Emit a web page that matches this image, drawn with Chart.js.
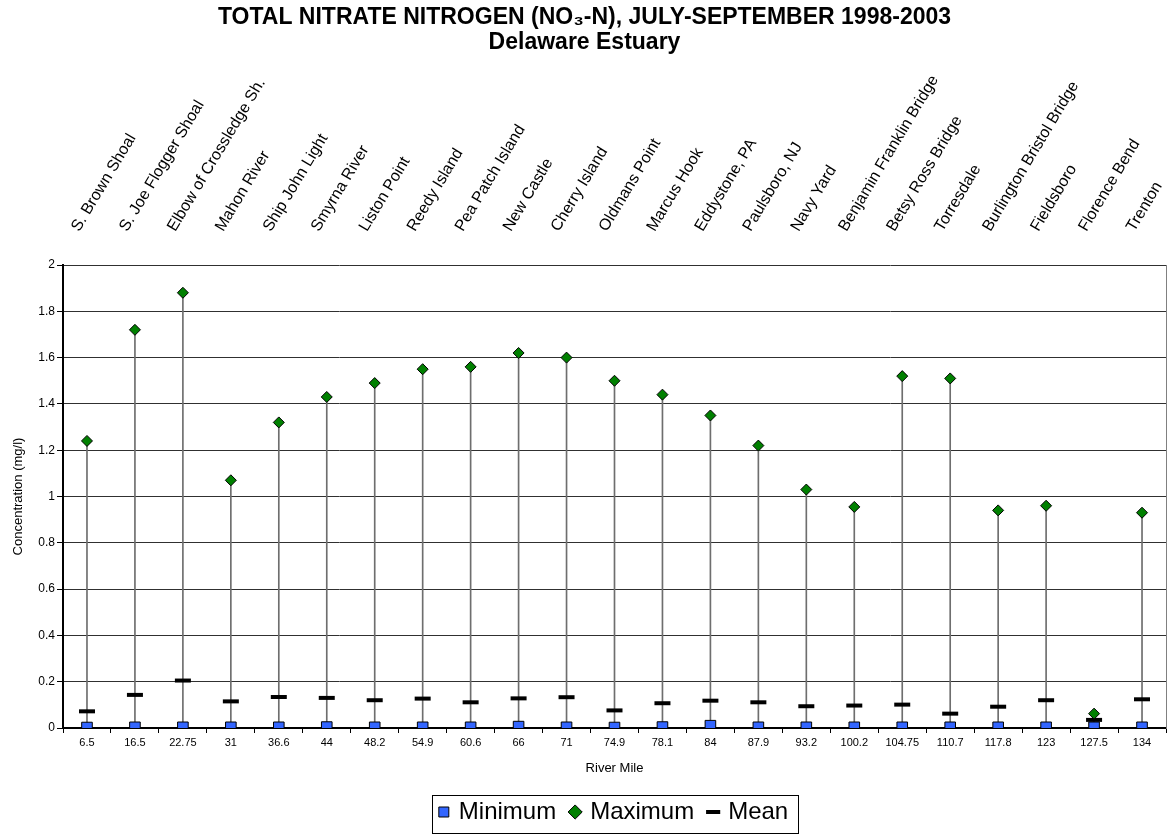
<!DOCTYPE html>
<html>
<head>
<meta charset="utf-8">
<title>Total Nitrate Nitrogen - Delaware Estuary</title>
<script src="https://cdn.jsdelivr.net/npm/chart.js@4.4.1/dist/chart.umd.min.js"></script>
<style>
    html, body { margin: 0; padding: 0; background: #fff; }
</style>
</head>
<body>
<canvas id="myChart" width="1169" height="834"></canvas>
<script>
// river mile of each station (bottom axis)
var riverMiles = ["6.5", "16.5", "22.75", "31", "36.6", "44", "48.2", "54.9", "60.6", "66", "71", "74.9",
    "78.1", "84", "87.9", "93.2", "100.2", "104.75", "110.7", "117.8", "123", "127.5", "134"];

// station names (top axis)
var stations = ["S. Brown Shoal", "S. Joe Flogger Shoal", "Elbow of Crossledge Sh.", "Mahon River",
    "Ship John Light", "Smyrna River", "Liston Point", "Reedy Island", "Pea Patch Island", "New Castle",
    "Cherry Island", "Oldmans Point", "Marcus Hook", "Eddystone, PA", "Paulsboro, NJ", "Navy Yard",
    "Benjamin Franklin Bridge", "Betsy Ross Bridge", "Torresdale", "Burlington Bristol Bridge",
    "Fieldsboro", "Florence Bend", "Trenton"];

// mg/l
var minimum = [0.002, 0.003, 0.003, 0.003, 0.003, 0.004, 0.003, 0.003, 0.003, 0.006, 0.003, 0.002,
    0.004, 0.010, 0.003, 0.003, 0.003, 0.003, 0.003, 0.003, 0.003, 0.003, 0.003];
var maximum = [1.24, 1.72, 1.88, 1.07, 1.32, 1.43, 1.49, 1.55, 1.56, 1.62, 1.60, 1.50,
    1.44, 1.35, 1.22, 1.03, 0.955, 1.52, 1.51, 0.94, 0.96, 0.062, 0.93];
var mean = [0.072, 0.143, 0.205, 0.115, 0.134, 0.130, 0.120, 0.127, 0.111, 0.128, 0.133, 0.076,
    0.107, 0.118, 0.111, 0.094, 0.097, 0.101, 0.062, 0.092, 0.120, 0.035, 0.124];

var yTicks = { min: 0, max: 2, step: 0.2 };

Chart.defaults.font.family = "'Liberation Sans', Arial, sans-serif";
Chart.defaults.color = "#000";

function highLow(lo, hi) {
    var out = [];
    for (var i = 0; i < lo.length; i++) {
        out.push([lo[i], hi[i]]);
    }
    return out;
}

// draws the frame round the legend, like the excel one
const legendFrame = {
    id: "legendFrame",
    afterDraw(chart) {
        const hb = chart.legend && chart.legend.legendHitBoxes;
        if (!hb || !hb.length) return;
        const first = hb[0];
        const last = hb[hb.length - 1];
        const ctx = chart.ctx;
        const left = Math.round(first.left - 9) + 0.5;
        const right = Math.round(last.left + last.width + 10) + 0.5;
        const top = Math.round(first.top - 5) + 0.5;
        ctx.save();
        ctx.strokeStyle = "#000";
        ctx.lineWidth = 1;
        ctx.strokeRect(left, top, right - left, 38);
        ctx.restore();
    }
};

const config = {
    type: "bar",
    data: {
        labels: riverMiles,
        datasets: [
            {
                type: "line",
                label: "Minimum",
                data: minimum,
                showLine: false,
                pointStyle: "rect",
                pointRadius: 7.5,
                pointBackgroundColor: "#3366FF",
                pointBorderColor: "#000",
                pointBorderWidth: 1,
                order: 0
            },
            {
                type: "line",
                label: "Maximum",
                data: maximum,
                showLine: false,
                pointStyle: "rectRot",
                pointRadius: 5.5,
                pointBackgroundColor: "#008000",
                pointBorderColor: "#000",
                pointBorderWidth: 1,
                order: 1
            },
            {
                type: "line",
                label: "Mean",
                data: mean,
                showLine: false,
                pointStyle: "line",
                pointRadius: 8,
                pointBorderColor: "#000",
                pointBackgroundColor: "#000",
                pointBorderWidth: 4,
                order: 2
            },
            {
                type: "bar",
                label: "High-Low",
                data: highLow(minimum, maximum),
                backgroundColor: "#6e6e6e",
                borderWidth: 0,
                barThickness: 1,
                order: 3
            }
        ]
    },
    options: {
        responsive: false,
        animation: false,
        layout: { padding: 0, autoPadding: false },
        plugins: {
            title: {
                display: true,
                text: ["TOTAL NITRATE NITROGEN (NO\u2083-N), JULY-SEPTEMBER 1998-2003", "Delaware Estuary"],
                font: { size: 23, weight: "bold", lineHeight: 1.05 },
                color: "#000",
                padding: { top: 6, bottom: 0 }
            },
            legend: {
                position: "bottom",
                fullSize: false,
                labels: {
                    usePointStyle: true,
                    boxWidth: 6,
                    boxHeight: 10,
                    padding: 16,
                    font: { size: 24 },
                    color: "#000",
                    filter: function (item) { return item.text !== "High-Low"; }
                }
            },
            tooltip: { enabled: false }
        },
        scales: {
            x: {
                type: "category",
                position: "bottom",
                offset: true,
                grid: { display: true, drawOnChartArea: false, offset: true, tickLength: 5, tickColor: "#000" },
                border: { display: true, color: "#000", width: 2 },
                ticks: { font: { size: 11 }, color: "#000", padding: 3, autoSkip: false, maxRotation: 0, minRotation: 0 },
                title: { display: true, text: "River Mile", font: { size: 13 }, color: "#000", padding: { top: 4, bottom: 8 } },
                afterFit: function (s) {
                    s.height = 56;
                    s.paddingLeft = 0;
                    s.paddingRight = 0;
                }
            },
            x2: {
                type: "category",
                position: "top",
                offset: true,
                labels: stations,
                grid: { display: false },
                border: { display: false },
                ticks: {
                    font: { size: 16 }, color: "#000", padding: 22, labelOffset: 5,
                    autoSkip: false, minRotation: 59, maxRotation: 59
                },
                afterFit: function (s) {
                    var th = s.chart.titleBlock ? s.chart.titleBlock.height : 53;
                    s.height = 265 - th;
                    s.paddingLeft = 0;
                    s.paddingRight = 0;
                }
            },
            y: {
                position: "left",
                min: yTicks.min,
                max: yTicks.max,
                grid: { color: "#303030", lineWidth: 1, tickLength: 6, tickColor: "#000" },
                border: { display: true, color: "#000", width: 2 },
                ticks: {
                    stepSize: yTicks.step,
                    font: { size: 12 },
                    color: "#000",
                    padding: 2,
                    callback: function (v) { return String(Math.round(v * 10) / 10); }
                },
                title: { display: true, text: "Concentration (mg/l)", font: { size: 13 }, color: "#000", padding: { top: 11, bottom: 0 } },
                afterFit: function (s) { s.width = 63; }
            },
            y2: {
                position: "right",
                min: yTicks.min,
                max: yTicks.max,
                grid: { display: false, drawTicks: false },
                border: { display: true, color: "#808080", width: 1 },
                ticks: { display: false },
                afterFit: function (s) { s.width = 3; }
            }
        }
    },
    plugins: [legendFrame]
};

new Chart(document.getElementById("myChart"), config);
</script>
</body>
</html>
